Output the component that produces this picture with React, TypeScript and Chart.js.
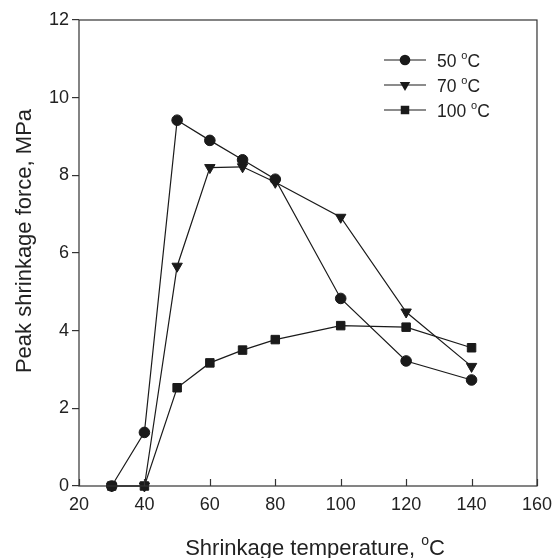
import React, { useEffect, useRef } from "react";
import { Chart, registerables } from "chart.js";

Chart.register(...registerables);

const xValues = [30, 40, 50, 60, 70, 80, 100, 120, 140];
const series50 = [0, 1.38, 9.42, 8.9, 8.4, 7.9, 4.83, 3.22, 2.73];
const series70 = [0, 0, 5.66, 8.2, 8.22, 7.82, 6.92, 4.48, 3.08];
const series100 = [0, 0, 2.53, 3.17, 3.5, 3.77, 4.13, 4.09, 3.56];
const seriesLabels = ["50", "70", "100"];
const xTitle = "Shrinkage temperature, ";
const yTitle = "Peak shrinkage force, MPa";

const FONT = "'Liberation Sans', Arial, sans-serif";
const INK = "#1a1a1a";
const TEXT = "#222";

const toPoints = (ys: number[]) => xValues.map((x, i) => ({ x, y: ys[i] }));

function drawMarker(ctx: CanvasRenderingContext2D, style: string, r: number, x: number, y: number) {
  ctx.beginPath();
  if (style === "circle") {
    ctx.arc(x, y, r, 0, Math.PI * 2);
  } else if (style === "rect") {
    const s = r / Math.SQRT2;
    ctx.rect(x - s, y - s, 2 * s, 2 * s);
  } else {
    const half = (r * Math.sqrt(3)) / 2;
    ctx.moveTo(x - half, y - r / 2);
    ctx.lineTo(x + half, y - r / 2);
    ctx.lineTo(x, y + r);
    ctx.closePath();
  }
  ctx.fill();
}

const framePlugin = {
  id: "frame",
  afterDatasetsDraw(chart: any) {
    const { ctx, chartArea } = chart;
    const { left, right, top, bottom } = chartArea;
    ctx.save();
    ctx.strokeStyle = "#333";
    ctx.lineWidth = 1.2;
    ctx.strokeRect(left, top, right - left, bottom - top);
    const xs = chart.scales.x;
    xs.ticks.forEach((t: any) => {
      const px = Math.round(xs.getPixelForValue(t.value)) + 0.5;
      ctx.beginPath();
      ctx.moveTo(px, bottom);
      ctx.lineTo(px, bottom - 7);
      ctx.stroke();
    });
    ctx.restore();
  },
  afterDraw(chart: any) {
    const { ctx } = chart;
    ctx.save();
    ctx.fillStyle = TEXT;
    const big = `22px ${FONT}`;
    const small = `14px ${FONT}`;
    ctx.font = big;
    const w1 = ctx.measureText(xTitle).width;
    const wC = ctx.measureText("C").width;
    ctx.font = small;
    const wo = ctx.measureText("o").width;
    const total = w1 + wo + wC;
    const x0 = 315 - total / 2;
    const yBase = 555;
    ctx.textBaseline = "alphabetic";
    ctx.textAlign = "left";
    ctx.font = big;
    ctx.fillText(xTitle, x0, yBase);
    ctx.font = small;
    ctx.fillText("o", x0 + w1, yBase - 10);
    ctx.font = big;
    ctx.fillText("C", x0 + w1 + wo, yBase);

    ctx.save();
    ctx.translate(31, 241);
    ctx.rotate(-Math.PI / 2);
    ctx.textAlign = "center";
    ctx.font = big;
    ctx.fillText(yTitle, 0, 0);
    ctx.restore();

    const lg = `17.5px ${FONT}`;
    const lgs = `11px ${FONT}`;
    const rows = [60, 85, 110];
    chart.data.datasets.forEach((ds: any, i: number) => {
      const y = rows[i];
      ctx.strokeStyle = INK;
      ctx.lineWidth = 1.2;
      ctx.beginPath();
      ctx.moveTo(384, y);
      ctx.lineTo(426, y);
      ctx.stroke();
      ctx.fillStyle = INK;
      drawMarker(ctx, ds.markerKind, ds.pointRadius, 405, y);
      ctx.fillStyle = TEXT;
      ctx.font = lg;
      ctx.textBaseline = "alphabetic";
      const base = y + 6.5;
      const label = seriesLabels[i] + " ";
      ctx.fillText(label, 437, base);
      const lw = ctx.measureText(label).width;
      ctx.font = lgs;
      ctx.fillText("o", 437 + lw, base - 8);
      const ow = ctx.measureText("o").width;
      ctx.font = lg;
      ctx.fillText("C", 437 + lw + ow, base);
    });
    ctx.restore();
  },
};

const makeDs = (label: string, ys: number[], kind: string, style: string, radius: number, rot = 0) => ({
  label,
  markerKind: kind,
  data: toPoints(ys),
  borderColor: INK,
  backgroundColor: INK,
  borderWidth: 1.2,
  pointStyle: style,
  pointRadius: radius,
  pointRotation: rot,
  pointBackgroundColor: INK,
  pointBorderColor: INK,
  pointBorderWidth: 1,
  tension: 0,
  clip: false as any,
});

export default function App() {
  const ref = useRef<HTMLCanvasElement | null>(null);
  useEffect(() => {
    document.body.style.margin = "0";
    const canvas = ref.current!;
    const chart = new Chart(canvas, {
      type: "line",
      data: {
        datasets: [
          makeDs("50 °C", series50, "circle", "circle", 5.3),
          makeDs("70 °C", series70, "triangle", "triangle", 6, 180),
          makeDs("100 °C", series100, "rect", "rect", 6),
        ] as any,
      },
      options: {
        animation: false,
        responsive: false,
        maintainAspectRatio: false,
        layout: { padding: { top: 20, right: 15, left: 0, bottom: 0 } },
        plugins: {
          legend: { display: false },
          tooltip: { enabled: false },
          title: { display: false },
        },
        scales: {
          x: {
            type: "linear",
            min: 20,
            max: 160,
            ticks: { stepSize: 20, color: TEXT, font: { family: FONT, size: 18 }, padding: 8, maxRotation: 0 },
            grid: { display: false, drawTicks: false },
            border: { display: false },
            afterFit: (s: any) => {
              s.height = 72;
            },
          },
          y: {
            min: 0,
            max: 12,
            ticks: { stepSize: 2, color: TEXT, font: { family: FONT, size: 18 }, padding: 3 },
            grid: { drawOnChartArea: false, drawTicks: true, tickLength: 7, color: "#333", lineWidth: 1.2 },
            border: { display: false },
            afterFit: (s: any) => {
              s.width = 79;
            },
          },
        },
      },
      plugins: [framePlugin],
    });
    return () => chart.destroy();
  }, []);
  return (
    <div style={{ position: "absolute", left: 0, top: 0, width: 560, height: 558, background: "#fff" }}>
      <canvas ref={ref} width={560} height={558} style={{ width: 560, height: 558 }} />
    </div>
  );
}
